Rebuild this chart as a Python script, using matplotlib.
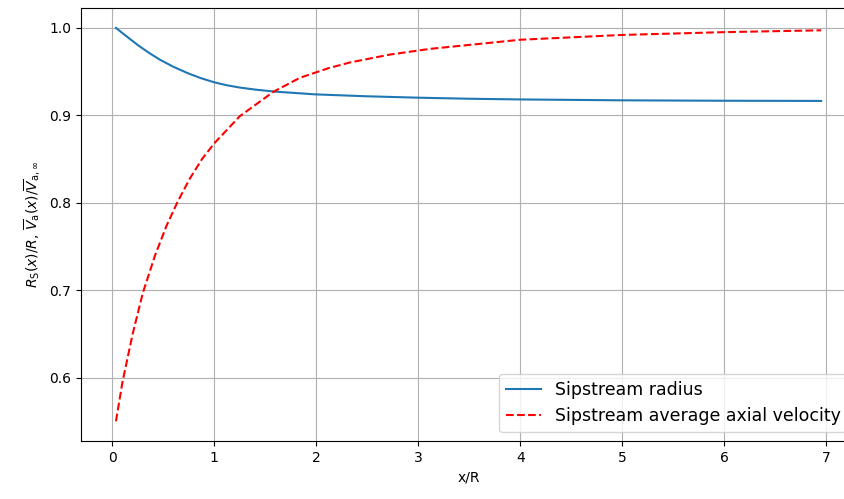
import matplotlib
matplotlib.use("Agg")
import matplotlib.pyplot as plt

# valeurs
x_radius = [0.036, 0.15, 0.255, 0.36, 0.468, 0.6, 0.745, 0.87, 1.0, 1.12, 1.25, 1.4, 1.578, 1.99, 2.5, 3.0, 3.5, 4.0, 5.0, 6.0, 6.95]
radius = [1.0, 0.9895, 0.980, 0.9715, 0.9636, 0.9555, 0.948, 0.9425, 0.9378, 0.9345, 0.9318, 0.9295, 0.9273, 0.924, 0.9218, 0.9202, 0.919, 0.9182, 0.9172, 0.9167, 0.9165]

x_vel = [0.036, 0.10, 0.20, 0.30, 0.42, 0.533, 0.64, 0.762, 0.88, 1.0, 1.25, 1.58, 1.84, 2.12, 2.33, 2.72, 3.11, 4.0, 5.0, 6.0, 6.95]
velocity = [0.55, 0.595, 0.65, 0.697, 0.740, 0.774, 0.801, 0.828, 0.850, 0.868, 0.899, 0.927, 0.943, 0.954, 0.9605, 0.9695, 0.976, 0.9865, 0.992, 0.9952, 0.9973]

fig = plt.figure(figsize=(8.45, 4.99), dpi=100)
ax = fig.add_axes([0.0955, 0.1164, 0.918, 0.867])

ax.plot(x_radius, radius, label='Sipstream radius')
ax.plot(x_vel, velocity, 'r--', label='Sipstream average axial velocity')

ax.set_xlabel('x/R')
ax.set_ylabel(r'$R_\mathrm{S}(x)/R$, $\overline{V}_\mathrm{a}(x)/\overline{V}_{\mathrm{a},\infty}$')
ax.grid(True)
ax.legend(loc='lower right', fontsize=12.5)

fig.savefig('out.png', dpi=100)
